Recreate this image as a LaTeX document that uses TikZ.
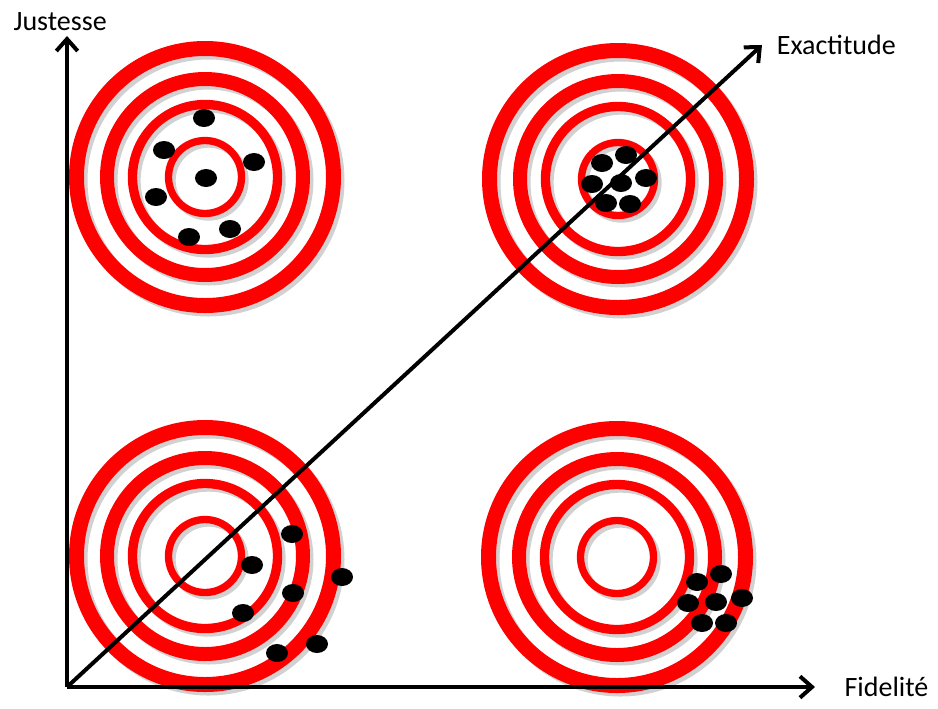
\documentclass[tikz,border=0pt]{standalone}
\usepackage{fontspec}
\setmainfont{Carlito}
\usetikzlibrary{positioning, arrows.meta}

\begin{document}
\begin{tikzpicture}[
        x=0.75pt, y=-0.75pt,
        % Style for the red rings of a target
        ring/.style={draw=red, line width=#1},
        % Soft shadow under each ring
        ringShadow/.style={draw=black, opacity=0.18, line width=#1},
        % Style for the impacts
        impact/.style={fill=black},
        % Axes and diagonal
        axis/.style={draw, line width=3pt, -{Straight Barb[length=9pt, width=16pt]}},
        axisLabel/.style={font=\fontsize{21}{25}\selectfont, inner sep=0pt}
    ]

        \useasboundingbox (0,0) rectangle (938,708);

        % --- Targets ---
        \coordinate (tl) at (205,177);
        \coordinate (tr) at (618,179);
        \coordinate (bl) at (205,556);
        \coordinate (br) at (617,557);

        \foreach \t in {tl,tr,bl,br}{
            \foreach \r/\w in {128.5/11.25pt, 98/10.5pt, 72.5/7pt, 36.5/5.5pt}{
                \draw[ringShadow=\w] ([shift={(3.5,3.5)}]\t) circle[radius=\r];
                \draw[ring=\w] (\t) circle[radius=\r];
            }
        }

        % --- Impacts ---
        % spread around the centre
        \foreach \dx/\dy in {-1/-59, -41/-27, 49/-15, 1/1, -49/20, 25/52, -16/60}
            \fill[impact] ([shift={(\dx,\dy)}]tl) ellipse[x radius=11, y radius=9];
        % grouped on the centre
        \foreach \dx/\dy in {-16/-16, 8/-24, -26/5, 3/4, 28/-1, -12/24, 12/25}
            \fill[impact] ([shift={(\dx,\dy)}]tr) ellipse[x radius=11, y radius=9];
        % spread off the centre
        \foreach \dx/\dy in {87/-22, 47/9, 137/21, 88/37, 38/57, 112/88, 72/97}
            \fill[impact] ([shift={(\dx,\dy)}]bl) ellipse[x radius=11, y radius=9];
        % grouped off the centre
        \foreach \dx/\dy in {104/17, 80/25, 71/46, 99/45, 125/41, 85/66, 109/66}
            \fill[impact] ([shift={(\dx,\dy)}]br) ellipse[x radius=11, y radius=9];

        % --- Axes ---
        \coordinate (origin) at (67,687);
        \coordinate (yEnd) at (67,36);
        \coordinate (xEnd) at (815,687);
        \coordinate (dEnd) at (762,45);

        \path[axis] (origin) -- (yEnd);
        \path[axis] (origin) -- (xEnd);
        \path[axis] (origin) -- (dEnd);

        \node[axisLabel, above left=4pt and -30pt of yEnd] (justesse) {Justesse};
        \node[axisLabel, right=22pt of xEnd] (fidelite) {Fidelité};
        \node[axisLabel, right=11pt of dEnd] (exactitude) {Exactitude};

    \end{tikzpicture}
\end{document}
